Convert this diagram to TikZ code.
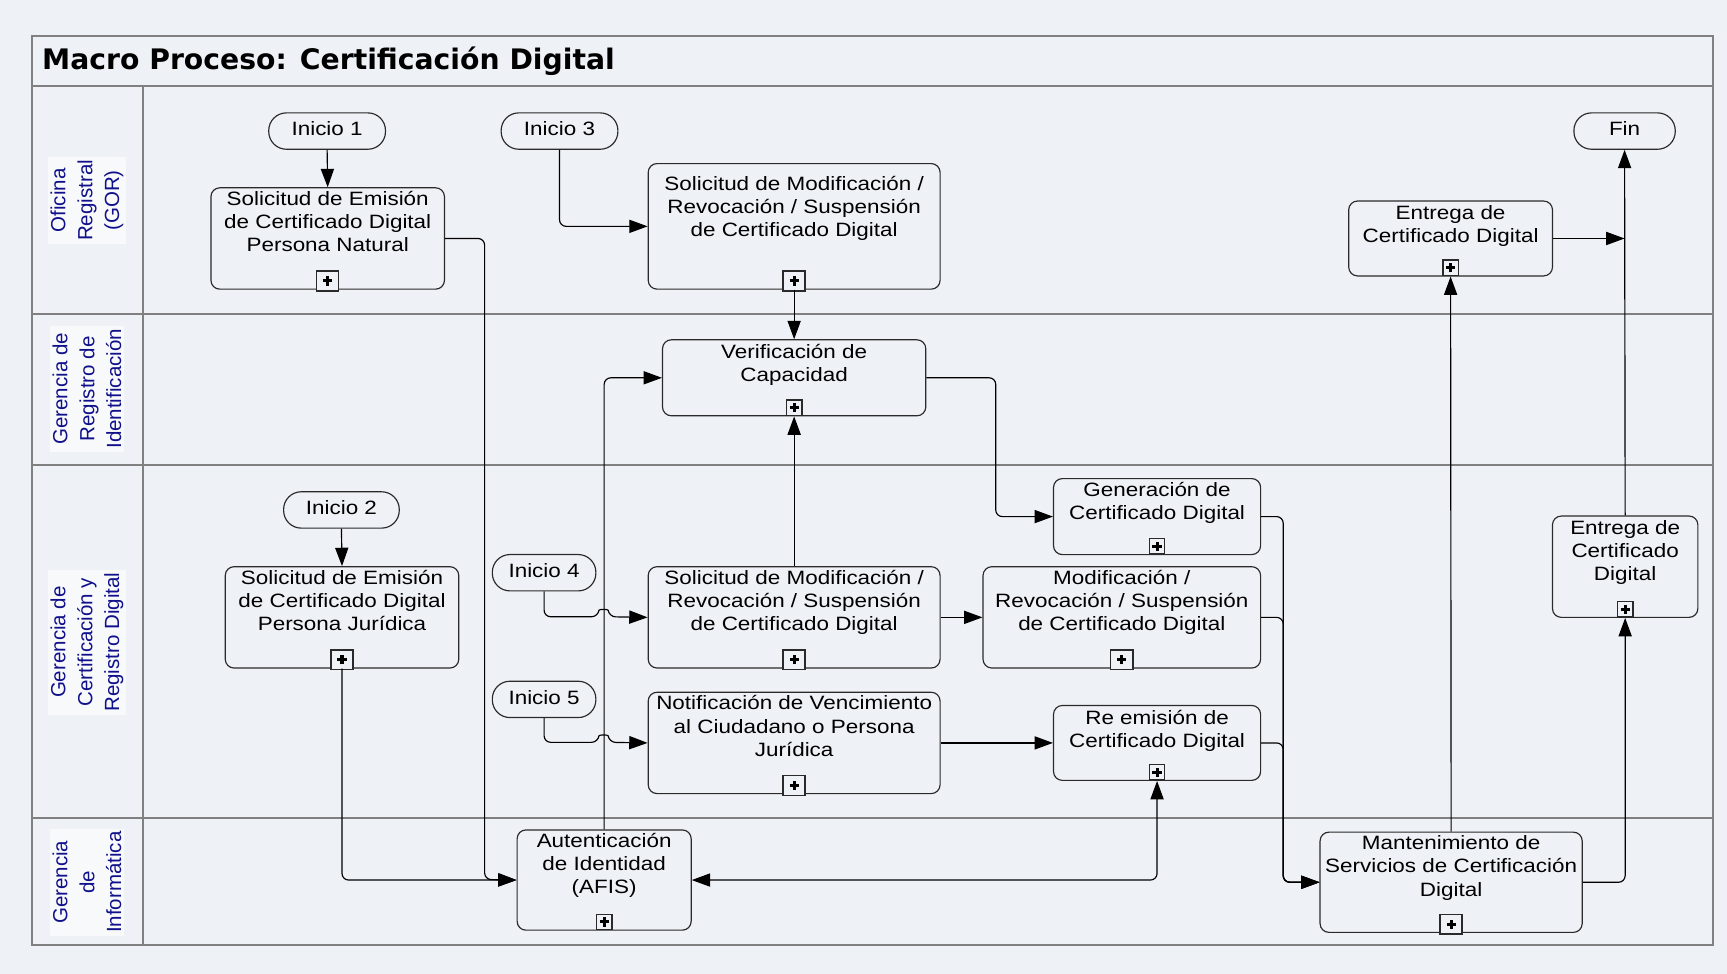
\documentclass[tikz,border=0pt]{standalone}
\usepackage{fontspec}
\usepackage{graphicx}
\setmainfont{Liberation Sans}
\newfontfamily\titlefont{DejaVu Sans}
\usetikzlibrary{arrows.meta,calc}
\newdimen\pxu \pxu=0.02cm
\definecolor{bgc}{HTML}{EEF1F6}
\definecolor{lanebg}{HTML}{F8F9FB}
\definecolor{laneline}{HTML}{808080}
\definecolor{lanetxt}{HTML}{10108A}
\definecolor{edge}{HTML}{2A2A2A}
\newcommand\nf{\fontsize{11.6}{13.9}\selectfont}
\newcommand\lf{\fontsize{10.6}{13.9}\selectfont}
\newcommand\bt[1]{\scalebox{1}[0.86]{\begin{tabular}{@{}c@{}}#1\end{tabular}}}
\newcommand\mybox[8]{%
  \pgfmathsetmacro\mybw{#4-#2}\pgfmathsetmacro\mybh{#5-#3}%
  \node[box, anchor=north west, minimum width=\mybw\pxu, minimum height=\mybh\pxu] (#1) at (#2,#3) {};
  \node[btxt] (#1-t) at ([yshift=-#8\pxu]#1.north) {\bt{#6}};
  \node[#7] (#1-p) at ([yshift=8\pxu]#1.south) {};
}
\tikzset{
  box/.style={draw=edge, line width=0.6pt, rounded corners=8\pxu, inner sep=0pt},
  btxt/.style={anchor=north, inner sep=0pt, font=\nf},
  term/.style={draw=edge, line width=0.6pt, rounded corners=16\pxu, minimum height=33\pxu, inner sep=0pt, font=\nf},
  plusmark/.style={draw=edge, line width=0.7pt, inner sep=0pt, fill=bgc,
    path picture={
      \draw[line width=1.6pt,black] ([xshift=-4.2\pxu]path picture bounding box.center) -- ([xshift=4.2\pxu]path picture bounding box.center);
      \draw[line width=1.6pt,black] ([yshift=-4.2\pxu]path picture bounding box.center) -- ([yshift=4.2\pxu]path picture bounding box.center);
    }},
  plusbig/.style={plusmark, minimum width=20\pxu, minimum height=18\pxu},
  plussmall/.style={plusmark, minimum width=14\pxu, minimum height=14\pxu},
  lane/.style={fill=lanebg, text=lanetxt, font=\lf, align=center, rotate=90, inner sep=1.5pt},
  conn/.style={draw=black, line width=0.6pt, rounded corners=6\pxu},
  arr/.style={-{Triangle[length=9.5pt,width=6.8pt]}},
  darr/.style={{Triangle[length=9.5pt,width=6.8pt]}-{Triangle[length=9.5pt,width=6.8pt]}},
  sep/.style={draw=laneline, line width=0.9pt},
}
\begin{document}
\begin{tikzpicture}[x=0.02cm,y=-0.02cm]
\fill[bgc] (0,0) rectangle (1568,884);
\useasboundingbox (0,0) rectangle (1568,884);
% frame and lanes
\draw[sep] (29,33) rectangle (1555,858);
\draw[sep] (29,78) -- (1555,78);
\draw[sep] (29,285) -- (1555,285);
\draw[sep] (29,422) -- (1555,422);
\draw[sep] (29,743) -- (1555,743);
\draw[sep] (130,78) -- (130,858);
\node[anchor=base west, inner sep=0pt, font=\titlefont\bfseries\fontsize{14.6}{16}\selectfont] (title) at (38,63) {Macro Proceso: Certificación Digital};
% lane labels
\node[lane] (lane1) at (79,182) {Oficina\\Registral\\(GOR)};
\node[lane] (lane2) at (79,353) {Gerencia de\\Registro de\\Identificación};
\node[lane] (lane3) at (79,583) {Gerencia de\\Certificación y\\Registro Digital};
\node[lane] (lane4) at (79,801) {Gerencia\\de\\Informática};
% terminals
\node[term, minimum width=106\pxu] (ini1) at (297,119) {\bt{Inicio 1}};
\node[term, minimum width=106\pxu] (ini3) at (508,119) {\bt{Inicio 3}};
\node[term, minimum width=92\pxu] (fin) at (1475,119) {\bt{Fin}};
\node[term, minimum width=105\pxu] (ini2) at (310,463) {\bt{Inicio 2}};
\node[term, minimum width=94\pxu] (ini4) at (494,520) {\bt{Inicio 4}};
\node[term, minimum width=94\pxu] (ini5) at (494,635) {\bt{Inicio 5}};
% boxes
\mybox{solnat}{191}{170}{403}{262}{Solicitud de Emisión\\de Certificado Digital\\Persona Natural}{plusbig}{1.5}
\mybox{solmodA}{588}{148}{853}{262}{Solicitud de Modificación /\\Revocación / Suspensión\\de Certificado Digital}{plusbig}{9.5}
\mybox{entA}{1224}{182}{1409}{250}{Entrega de\\Certificado Digital}{plussmall}{2}
\mybox{verif}{601}{308}{840}{377}{Verificación de\\Capacidad}{plussmall}{2}
\mybox{gen}{956}{434}{1144}{503}{Generación de\\Certificado Digital}{plussmall}{2}
\mybox{soljur}{204}{514}{416}{606}{Solicitud de Emisión\\de Certificado Digital\\Persona Jurídica}{plusbig}{1.5}
\mybox{solmodB}{588}{514}{853}{606}{Solicitud de Modificación /\\Revocación / Suspensión\\de Certificado Digital}{plusbig}{1.5}
\mybox{modif}{892}{514}{1144}{606}{Modificación /\\Revocación / Suspensión\\de Certificado Digital}{plusbig}{1.5}
\mybox{notif}{588}{628}{853}{720}{Notificación de Vencimiento\\al Ciudadano o Persona\\Jurídica}{plusbig}{1.5}
\mybox{reem}{956}{640}{1144}{708}{Re emisión de\\Certificado Digital}{plussmall}{3}
\mybox{entB}{1409}{468}{1541}{560}{Entrega de\\Certificado\\Digital}{plussmall}{2}
\mybox{auten}{469}{753}{627}{844}{Autenticación\\de Identidad\\(AFIS)}{plussmall}{1.5}
\mybox{mant}{1198}{755}{1436}{846}{Mantenimiento de\\Servicios de Certificación\\Digital}{plusbig}{1.5}
% connectors
\draw[conn,arr] (ini1.south) -- (solnat.north);
\draw[conn,arr] (ini2.south) -- (soljur.north);
\draw[conn,arr] (ini3.south) |- (solmodA.west);
\draw[conn,arr] (solnat.east) -| (440,798.5) -- (auten.west);
\draw[conn,arr] (soljur.south) |- (auten.west);
\draw[conn,arr] (auten.north) |- (verif.west);
\draw[conn,arr] (solmodA.south) -- (verif.north);
\draw[conn,arr] (solmodB.north) -- (verif.south);
\draw[conn,arr] (verif.east) -- ++(63,0) |- (gen.west);
\coordinate (hopA) at (543,560);
\coordinate (hopB) at (543,674);
\draw[conn,arr] (ini4.south) |- (hopA) .. controls (544,553) and (552,553) .. (553,560) -- (solmodB.west);
\draw[conn,arr] (ini5.south) |- (hopB) .. controls (544,667) and (552,667) .. (553,674) -- (notif.west);
\draw[conn,arr] (solmodB.east) -- (modif.west);
\draw[conn,arr] (notif.east) -- (reem.west);
\draw[conn,darr] (auten.east) -| (reem.south);
\draw[conn,arr] (gen.east) -- ++(20,0) |- (mant.west);
\draw[conn,arr] (modif.east) -- ++(20,0) |- (mant.west);
\draw[conn,arr] (reem.east) -- ++(20,0) |- (mant.west);
\draw[conn,arr] (mant.north) -- (entA.south);
\draw[conn,arr] (mant.east) -| (entB.south);
\draw[conn,arr] (entB.north) -- (fin.south);
\draw[conn,arr] (entA.east) -- (entA.east -| fin.south);
\end{tikzpicture}
\end{document}
